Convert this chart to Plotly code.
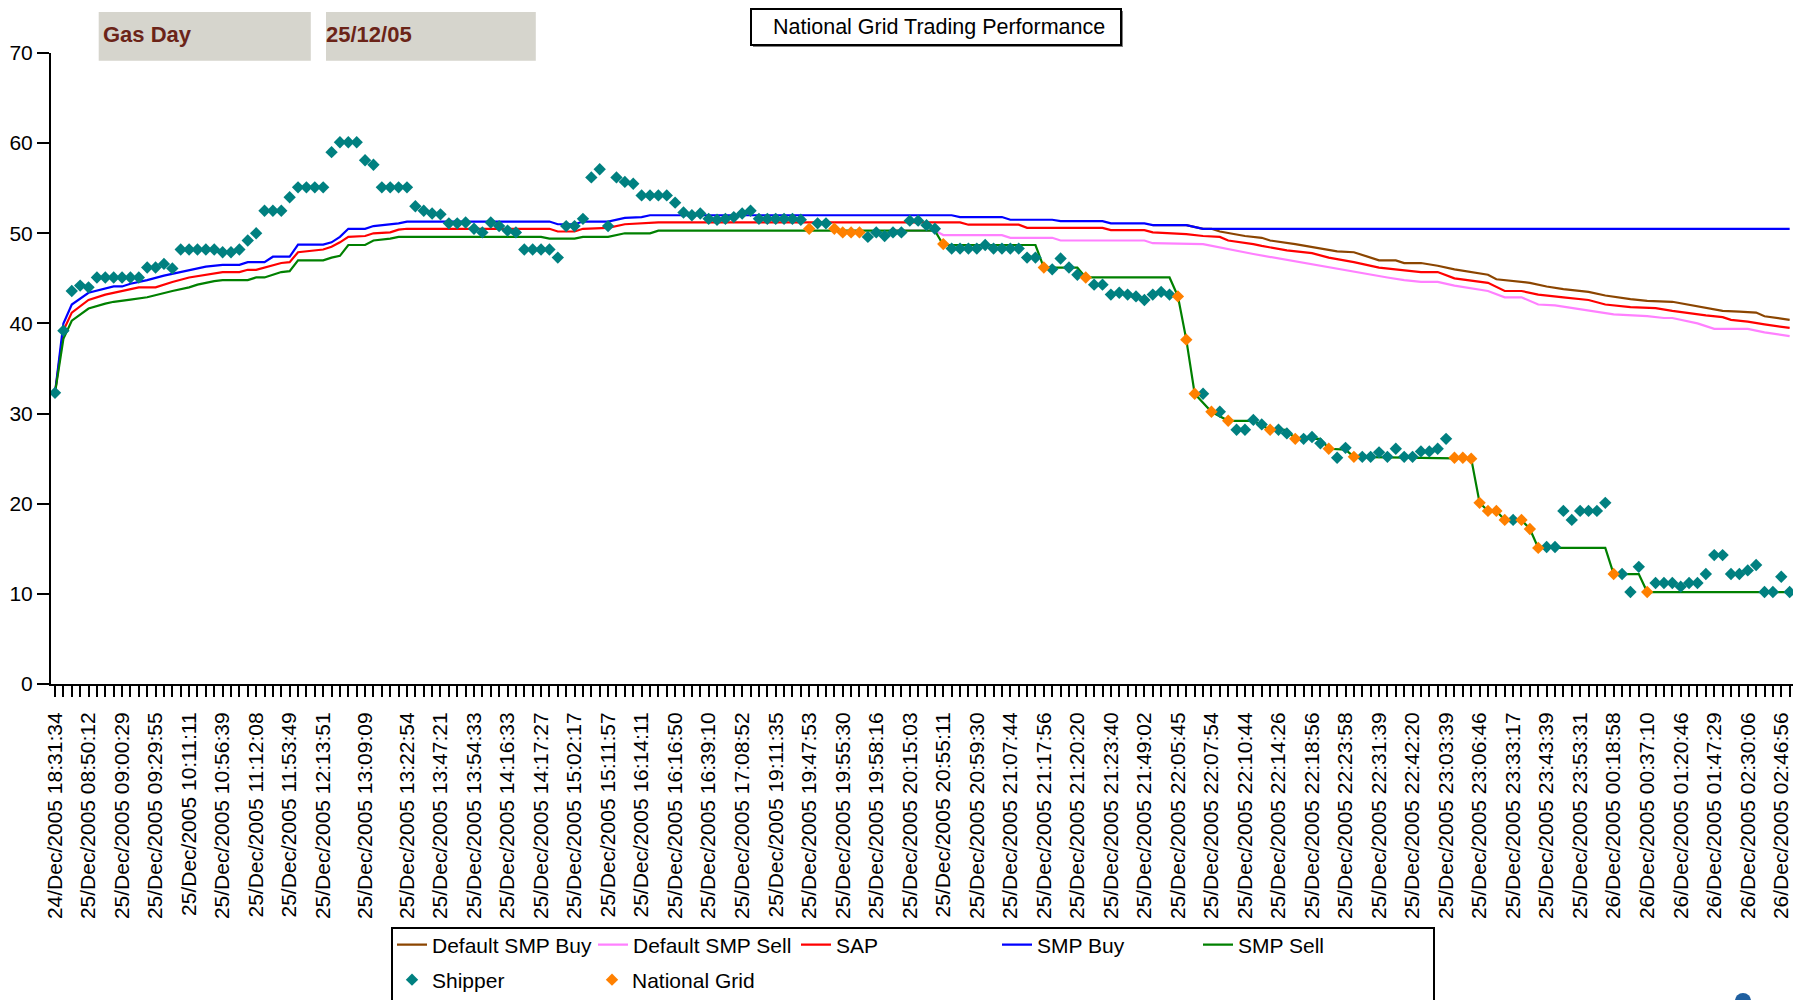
import plotly.graph_objects as go

# ---------------- data ----------------
N_CAT = 208  # number of trades (categories) on the x axis

label_idx = [0, 4, 8, 12, 16, 20, 24, 28, 32, 37, 42, 46, 50, 54, 58, 62, 66, 70, 74, 78,
             82, 86, 90, 94, 98, 102, 106, 110, 114, 118, 122, 126, 130, 134, 138, 142,
             146, 150, 154, 158, 162, 166, 170, 174, 178, 182, 186, 190, 194, 198, 202, 206]
label_text = [
    "24/Dec/2005 18:31:34", "25/Dec/2005 08:50:12", "25/Dec/2005 09:00:29", "25/Dec/2005 09:29:55",
    "25/Dec/2005 10:11:11", "25/Dec/2005 10:56:39", "25/Dec/2005 11:12:08", "25/Dec/2005 11:53:49",
    "25/Dec/2005 12:13:51", "25/Dec/2005 13:09:09", "25/Dec/2005 13:22:54", "25/Dec/2005 13:47:21",
    "25/Dec/2005 13:54:33", "25/Dec/2005 14:16:33", "25/Dec/2005 14:17:27", "25/Dec/2005 15:02:17",
    "25/Dec/2005 15:11:57", "25/Dec/2005 16:14:11", "25/Dec/2005 16:16:50", "25/Dec/2005 16:39:10",
    "25/Dec/2005 17:08:52", "25/Dec/2005 19:11:35", "25/Dec/2005 19:47:53", "25/Dec/2005 19:55:30",
    "25/Dec/2005 19:58:16", "25/Dec/2005 20:15:03", "25/Dec/2005 20:55:11", "25/Dec/2005 20:59:30",
    "25/Dec/2005 21:07:44", "25/Dec/2005 21:17:56", "25/Dec/2005 21:20:20", "25/Dec/2005 21:23:40",
    "25/Dec/2005 21:49:02", "25/Dec/2005 22:05:45", "25/Dec/2005 22:07:54", "25/Dec/2005 22:10:44",
    "25/Dec/2005 22:14:26", "25/Dec/2005 22:18:56", "25/Dec/2005 22:23:58", "25/Dec/2005 22:31:39",
    "25/Dec/2005 22:42:20", "25/Dec/2005 23:03:39", "25/Dec/2005 23:06:46", "25/Dec/2005 23:33:17",
    "25/Dec/2005 23:43:39", "25/Dec/2005 23:53:31", "26/Dec/2005 00:18:58", "26/Dec/2005 00:37:10",
    "26/Dec/2005 01:20:46", "26/Dec/2005 01:47:29", "26/Dec/2005 02:30:06", "26/Dec/2005 02:46:56",
]

# SMP Buy
smp_buy_idx = [0, 1, 2, 4, 7, 8, 9, 11, 13, 16, 18, 20, 22, 23, 25, 26, 28, 29, 32, 33, 34, 35,
               37, 38, 39, 41, 42, 59, 60, 62, 63, 66, 68, 70, 71, 107, 108, 113, 114, 119, 120,
               125, 126, 130, 131, 135, 137, 207]
smp_buy_val = [32.3, 40.0, 42.1, 43.4, 44.1, 44.1, 44.4, 44.8, 45.3, 45.9, 46.3, 46.5, 46.5, 46.8,
               46.8, 47.4, 47.4, 48.75, 48.75, 49.0, 49.6, 50.5, 50.5, 50.8, 50.9, 51.1, 51.3, 51.3,
               51.0, 51.0, 51.3, 51.3, 51.7, 51.8, 52.0, 52.0, 51.8, 51.8, 51.5, 51.5, 51.35, 51.35,
               51.1, 51.1, 50.9, 50.9, 50.5, 50.5]

# SAP
sap_idx = [0, 1, 2, 4, 6, 9, 10, 12, 14, 16, 18, 20, 22, 23, 24, 26, 27, 28, 29, 32, 33, 34, 35,
           37, 38, 40, 41, 42, 59, 60, 62, 63, 66, 68, 70, 72, 108, 109, 115, 116, 125, 126, 130,
           131, 135, 137, 139, 140, 143, 144, 147, 150, 152, 155, 158, 161, 163, 165, 167, 171,
           173, 175, 177, 180, 183, 185, 188, 191, 193, 197, 199, 200, 202, 204, 206, 207]
sap_val = [32.3, 39.2, 41.2, 42.6, 43.2, 43.75, 44.0, 44.0, 44.6, 45.1, 45.4, 45.7, 45.7, 45.95,
           45.95, 46.4, 46.7, 46.8, 47.9, 48.2, 48.5, 49.0, 49.6, 49.7, 50.0, 50.1, 50.4, 50.5,
           50.5, 50.2, 50.2, 50.5, 50.6, 51.0, 51.1, 51.2, 51.2, 50.95, 50.95, 50.6, 50.6, 50.35,
           50.35, 50.1, 49.9, 49.7, 49.6, 49.2, 48.8, 48.6, 48.1, 47.8, 47.3, 46.8, 46.2, 45.9,
           45.7, 45.7, 45.0, 44.5, 43.6, 43.6, 43.2, 42.9, 42.6, 42.1, 41.8, 41.7, 41.4, 40.9,
           40.7, 40.4, 40.2, 39.9, 39.6, 39.5]

# SMP Sell
smp_sell_idx = [0, 1, 2, 4, 6, 7, 9, 11, 14, 16, 17, 19, 20, 23, 24, 25, 26, 27, 28, 29, 32, 33,
                34, 35, 37, 38, 40, 41, 58, 59, 62, 63, 66, 68, 71, 72, 105, 106, 117, 118, 122,
                123, 133, 134, 135, 136, 138, 140, 143, 145, 147, 148, 151, 152, 154, 155, 169,
                170, 171, 172, 173, 175, 176, 177, 185, 186, 189, 190, 207]
smp_sell_val = [32.3, 38.3, 40.3, 41.65, 42.2, 42.4, 42.65, 42.9, 43.6, 44.0, 44.3, 44.7, 44.8,
                44.8, 45.1, 45.1, 45.4, 45.7, 45.8, 47.0, 47.0, 47.3, 47.5, 48.7, 48.7, 49.2, 49.4,
                49.6, 49.6, 49.4, 49.4, 49.6, 49.6, 50.0, 50.0, 50.3, 50.3, 48.7, 48.7, 46.2, 46.2,
                45.1, 45.1, 43.0, 38.2, 32.2, 30.2, 29.2, 29.2, 28.2, 28.2, 27.2, 27.2, 26.1, 26.0,
                25.2, 25.0, 20.1, 19.2, 19.2, 18.2, 18.2, 17.2, 15.1, 15.1, 12.2, 12.2, 10.2, 10.2]

# Default SMP Buy (hidden under SMP Buy until it separates)
dsmp_buy_idx = [131, 135, 137, 138, 139, 142, 144, 145, 148, 151, 153, 155, 158, 160, 161, 163,
                165, 167, 171, 172, 174, 176, 178, 180, 183, 185, 188, 190, 193, 196, 199, 201,
                203, 204, 206, 207]
dsmp_buy_val = [50.9, 50.9, 50.5, 50.5, 50.2, 49.7, 49.5, 49.2, 48.8, 48.3, 48.0, 47.9, 47.0, 47.0,
                46.7, 46.7, 46.4, 46.0, 45.4, 44.9, 44.7, 44.5, 44.1, 43.8, 43.5, 43.1, 42.7, 42.5,
                42.4, 41.9, 41.4, 41.3, 41.2, 40.8, 40.5, 40.4]

# Default SMP Sell (hidden under SMP Sell until it separates)
dsmp_sell_idx = [100, 105, 106, 113, 114, 119, 120, 130, 131, 137, 143, 146, 149, 154, 159, 161,
                 163, 165, 167, 171, 173, 175, 177, 179, 181, 183, 186, 190, 192, 193, 196, 198,
                 202, 204, 206, 207]
dsmp_sell_val = [50.3, 50.3, 49.8, 49.8, 49.5, 49.5, 49.2, 49.2, 48.9, 48.8, 47.7, 47.2, 46.7,
                 45.9, 45.1, 44.8, 44.6, 44.6, 44.2, 43.6, 42.9, 42.9, 42.1, 42.0, 41.7, 41.4,
                 41.0, 40.8, 40.6, 40.6, 40.0, 39.4, 39.4, 39.0, 38.7, 38.6]

# Shipper trades
ship_idx = list(range(0, 90)) + [91, 92] + list(range(97, 106)) + list(range(107, 118)) + \
    [119, 120, 121, 122] + list(range(124, 134)) + [137, 139, 141, 142, 143, 144, 146, 147,
    149, 150, 151, 153, 154] + list(range(156, 167)) + [174] + list(range(178, 186)) + \
    [187, 188, 189] + list(range(191, 208))
ship_val = [
    32.3, 39.2, 43.6, 44.2, 44.0, 45.1, 45.1, 45.1, 45.1, 45.1, 45.1, 46.2, 46.2, 46.6, 46.1,
    48.2, 48.2, 48.2, 48.2, 48.2, 47.9, 47.9, 48.2, 49.2, 50.0, 52.5, 52.5, 52.5, 54.0, 55.1,
    55.1, 55.1, 55.1, 59.0, 60.1, 60.1, 60.1, 58.1, 57.6, 55.1, 55.1, 55.1, 55.1, 53.0, 52.5,
    52.2, 52.1, 51.1, 51.1, 51.2, 50.5, 50.1, 51.2, 50.8, 50.3, 50.1, 48.2, 48.2, 48.2, 48.2,
    47.3, 50.8, 50.8, 51.6, 56.2, 57.1, 50.8, 56.2, 55.7, 55.5, 54.2, 54.2, 54.2, 54.2, 53.4,
    52.3, 52.0, 52.2, 51.6, 51.5, 51.6, 51.8, 52.2, 52.5, 51.6, 51.6, 51.6, 51.6, 51.6, 51.5,
    51.1, 51.1,
    49.6, 50.1, 49.7, 50.1, 50.1, 51.4, 51.4, 50.9, 50.5,
    48.3, 48.3, 48.3, 48.3, 48.7, 48.3, 48.3, 48.3, 48.3, 47.3, 47.3,
    46.0, 47.2, 46.2, 45.4,
    44.3, 44.3, 43.2, 43.4, 43.2, 43.0, 42.6, 43.2, 43.5, 43.2,
    32.2, 30.2, 28.2, 28.2, 29.3, 28.8, 28.2, 27.8, 27.2, 27.4, 26.7, 25.1, 26.2,
    25.2, 25.2, 25.7, 25.2, 26.1, 25.2, 25.2, 25.8, 25.8, 26.1, 27.2,
    18.2,
    15.2, 15.2, 19.2, 18.2, 19.2, 19.2, 19.2, 20.1,
    12.2, 10.2, 13.0,
    11.2, 11.2, 11.2, 10.8, 11.2, 11.2, 12.2, 14.3, 14.3, 12.2, 12.2, 12.6, 13.2, 10.2, 10.2,
    11.9, 10.2,
]

# National Grid trades
ng_idx = [90, 93, 94, 95, 96, 106, 118, 123, 134, 135, 136, 138, 140, 145, 148, 152, 155, 167,
          168, 169, 170, 171, 172, 173, 175, 176, 177, 186, 190]
ng_val = [50.5, 50.5, 50.1, 50.1, 50.1, 48.8, 46.2, 45.1, 43.0, 38.2, 32.2, 30.2, 29.2, 28.2,
          27.2, 26.1, 25.2, 25.1, 25.1, 25.0, 20.1, 19.2, 19.2, 18.2, 18.2, 17.2, 15.1, 12.2, 10.2]

# ---------------- layout helpers ----------------
W, H = 1793, 1000
ML, MR, MT, MB = 51, 0, 53, 316
PW, PH = W - ML - MR, H - MT - MB


def px(x):
    return (x - ML) / PW


def py(y):
    return (H - MB - y) / PH


FONT = "Liberation Sans, Arial, sans-serif"
tick_text = [""] * N_CAT
for i, t in zip(label_idx, label_text):
    tick_text[i] = t

fig = go.Figure()

line_series = [
    ("Default SMP Buy", dsmp_buy_idx, dsmp_buy_val, "#8B4500", 156),
    ("Default SMP Sell", dsmp_sell_idx, dsmp_sell_val, "#FF80FF", 158),
    ("SAP", sap_idx, sap_val, "#FF0000", 156),
    ("SMP Buy", smp_buy_idx, smp_buy_val, "#0000FF", 156),
    ("SMP Sell", smp_sell_idx, smp_sell_val, "#008000", 156),
]
for name, xi, yv, col, lw in line_series:
    fig.add_trace(go.Scatter(x=xi, y=yv, mode="lines", name=name, legendwidth=lw,
                             line=dict(color=col, width=2.2), legend="legend"))

fig.add_trace(go.Scatter(x=ship_idx, y=ship_val, mode="markers", name="Shipper",
                         marker=dict(symbol="diamond", size=9.5, color="#008080"),
                         legend="legend2"))
fig.add_trace(go.Scatter(x=ng_idx, y=ng_val, mode="markers", name="National Grid",
                         marker=dict(symbol="diamond", size=9.5, color="#FF8000"),
                         legend="legend2"))

fig.update_layout(
    width=W, height=H, autosize=False,
    margin=dict(l=ML, r=MR, t=MT, b=MB, pad=0),
    paper_bgcolor="white", plot_bgcolor="white",
    font=dict(family=FONT, color="black", size=21),
    showlegend=True,
    legend=dict(orientation="h", xref="container", yref="container",
                x=392 / W, xanchor="left", y=1 - 924.5 / H, yanchor="top",
                entrywidth=156, entrywidthmode="pixels", font=dict(size=21, family=FONT),
                bgcolor="rgba(0,0,0,0)", borderwidth=0, traceorder="normal"),
    legend2=dict(orientation="h", xref="container", yref="container",
                 x=392 / W, xanchor="left", y=1 - 959.5 / H, yanchor="top",
                 entrywidth=155, entrywidthmode="pixels", font=dict(size=21, family=FONT),
                 bgcolor="rgba(0,0,0,0)", borderwidth=0, traceorder="normal"),
    xaxis=dict(range=[-0.48, 207.4], tickmode="array", tickvals=list(range(N_CAT)),
               ticktext=tick_text, tickangle=-90, ticks="outside", ticklen=11, tickwidth=2,
               tickcolor="black", showline=True, linecolor="black", linewidth=2,
               showgrid=False, zeroline=False, tickfont=dict(size=21, family=FONT),
               ticklabelstandoff=7),
    yaxis=dict(range=[0, 70], tickmode="linear", tick0=0, dtick=10, ticks="outside",
               ticklen=12, tickwidth=2, tickcolor="black", showline=True, linecolor="black",
               linewidth=2, showgrid=False, zeroline=False, tickfont=dict(size=21, family=FONT)),
)

shapes = [
    # Gas Day boxes
    dict(type="rect", xref="paper", yref="paper", x0=px(98.7), x1=px(310.8), y0=py(60.7),
         y1=py(12), fillcolor="#D6D5CD", line=dict(width=0)),
    dict(type="rect", xref="paper", yref="paper", x0=px(326), x1=px(535.8), y0=py(60.7),
         y1=py(12), fillcolor="#D6D5CD", line=dict(width=0)),
    # title box shadow + box
    dict(type="rect", xref="paper", yref="paper", x0=px(753), x1=px(1123), y0=py(47),
         y1=py(11), fillcolor="#808080", line=dict(width=0)),
    dict(type="rect", xref="paper", yref="paper", x0=px(751), x1=px(1121), y0=py(45),
         y1=py(9), fillcolor="white", line=dict(color="black", width=2)),
    # legend box
    dict(type="rect", xref="paper", yref="paper", x0=px(392), x1=px(1434), y0=py(1012),
         y1=py(928), fillcolor="rgba(0,0,0,0)", line=dict(color="black", width=2)),
    # small blue mark partly visible at the bottom edge
    dict(type="circle", xref="paper", yref="paper", x0=px(1735), x1=px(1751), y0=py(1008),
         y1=py(993), fillcolor="#1F5FA0", line=dict(width=0)),
]
fig.update_layout(shapes=shapes)

annotations = [
    dict(text="National Grid Trading Performance", xref="paper", yref="paper", x=px(939),
         y=py(27), xanchor="center", yanchor="middle", showarrow=False,
         font=dict(size=21.5, family=FONT, color="black")),
    dict(text="<b>Gas Day</b>", xref="paper", yref="paper", x=px(101), y=py(35),
         xanchor="left", yanchor="middle", showarrow=False,
         font=dict(size=22, family=FONT, color="#6B2418")),
    dict(text="<b>25/12/05</b>", xref="paper", yref="paper", x=px(324), y=py(35),
         xanchor="left", yanchor="middle", showarrow=False,
         font=dict(size=22, family=FONT, color="#6B2418")),
]
fig.update_layout(annotations=annotations)

fig.write_html("out.html", config={"displayModeBar": False},
               post_script="document.body.style.margin='0';document.body.style.overflow='hidden';")
